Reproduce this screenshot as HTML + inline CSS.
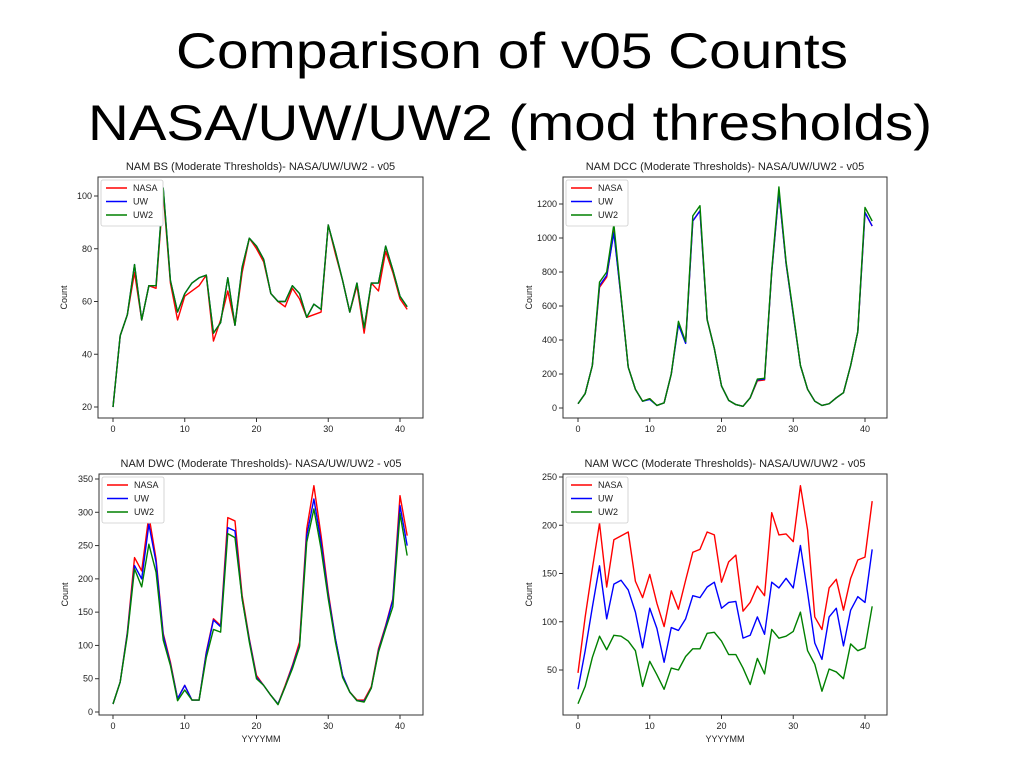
<!DOCTYPE html>
<html><head><meta charset="utf-8"><style>
body{margin:0;background:#fff;width:1024px;height:768px;overflow:hidden}
svg{display:block;font-family:"Liberation Sans","DejaVu Sans",sans-serif}
</style></head><body>
<svg id="s" width="1024" height="768">
<text x="512" y="68" text-anchor="middle" font-size="50" fill="#000" textLength="672" lengthAdjust="spacingAndGlyphs">Comparison of v05 Counts</text>
<text x="510" y="140" text-anchor="middle" font-size="50" fill="#000" textLength="844" lengthAdjust="spacingAndGlyphs">NASA/UW/UW2 (mod thresholds)</text>
</svg>
<script>
const xIdx = Array.from({length:42},(_,i)=>i);
const bsNasa=[20,47,55,71,53,66,65,101,67,53,62,64,66,70,45,53,64,51,71,84,80,75,63,60,58,65,61,54,55,56,89,78,68,56,66,48,67,64,79,71,61,57];
const bsUw=[20,47,55,74,53,66,66,103,68,56,63,67,69,70,48,52,69,51,73,84,81,76,63,60,60,66,63,54,59,57,89,79,68,56,67,50,67,67,81,72,62,58];
const bsUw2=[20,47,55,74,53,66,66,103,68,56,63,67,69,70,48,52,69,51,73,84,81,76,63,60,60,66,63,54,59,57,89,79,68,56,67,50,67,67,81,72,62,58];
const dccNasa=[25,85,250,710,770,1040,650,240,110,40,55,15,30,200,500,385,1100,1160,520,350,130,45,20,10,60,160,165,800,1270,850,550,250,110,40,15,25,60,90,250,450,1150,1070];
const dccUw=[25,85,250,720,780,1030,650,240,110,40,50,15,30,200,490,380,1100,1160,520,350,130,45,20,10,60,165,170,800,1270,850,550,250,110,40,15,25,60,90,250,450,1150,1070];
const dccUw2=[25,85,250,740,800,1080,660,240,110,40,55,15,30,200,510,390,1130,1190,520,350,130,45,20,10,60,170,175,810,1300,860,560,250,110,40,15,25,60,90,250,450,1180,1100];
const dwcNasa=[12,45,120,232,212,295,230,118,75,20,40,18,18,90,140,130,292,287,175,110,55,40,25,12,40,70,105,275,340,265,180,110,55,30,18,18,38,95,130,170,325,265];
const dwcUw=[12,45,118,220,200,282,225,115,72,20,40,18,18,88,138,128,277,272,170,108,52,40,25,12,38,68,100,265,320,255,175,110,55,30,17,16,36,92,128,168,310,250];
const dwcUw2=[12,45,115,215,188,252,210,108,70,17,33,18,18,82,124,120,268,262,170,105,50,40,25,11,38,65,98,255,305,245,170,105,52,30,17,15,36,90,125,158,298,235];
const wccNasa=[47,105,155,202,136,185,189,193,142,125,149,119,95,132,113,143,172,175,193,190,141,162,169,111,120,137,127,213,190,191,183,241,195,105,92,135,144,112,145,164,167,225];
const wccUw=[30,70,115,158,103,139,143,133,110,73,114,93,58,94,91,103,127,125,136,141,114,120,121,83,86,105,87,141,135,145,135,179,130,78,61,105,114,75,112,126,120,175];
const wccUw2=[15,33,63,85,71,86,85,80,70,33,59,45,30,52,50,64,72,72,88,89,80,66,66,52,35,62,46,92,83,85,90,110,70,56,28,51,48,41,77,70,73,116];
const xTicks=[0,10,20,30,40];
const bsTicks=[20,40,60,80,100];
const dccTicks=[0,200,400,600,800,1000,1200];
const dwcTicks=[0,50,100,150,200,250,300,350];
const wccTicks=[50,100,150,200,250];
const seriesNames=['NASA','UW','UW2'];
const colors=['#ff0000','#0000ff','#008000'];

const NS='http://www.w3.org/2000/svg';
const svg=document.getElementById('s');
function mk(t,a,p){const e=document.createElementNS(NS,t);for(const k in a)e.setAttribute(k,a[k]);(p||svg).appendChild(e);return e;}

function chart(cfg){
  const g=mk('g',{});
  
  
  const X=v=>cfg.x0+(v-0)*(cfg.x40-cfg.x0)/40;
  const Y=v=>cfg.yb+(v-cfg.vb)*(cfg.yt-cfg.yb)/(cfg.vt-cfg.vb);
  const t=mk('text',{x:(cfg.L+cfg.R)/2,y:cfg.T-7,'text-anchor':'middle','font-size':11,fill:'#222'},g);
  t.textContent=cfg.title;
  
  
  cfg.yticks.forEach(v=>{
    mk('line',{x1:cfg.L-4,x2:cfg.L,y1:Y(v),y2:Y(v),stroke:'#333'},g);
    const tt=mk('text',{x:cfg.L-6,y:Y(v)+3,'text-anchor':'end','font-size':9,fill:'#222'},g);
    tt.textContent=v;
    
    
  });
  xTicks.forEach(v=>{
    mk('line',{x1:X(v),x2:X(v),y1:cfg.B,y2:cfg.B+4,stroke:'#333'},g);
    const tt=mk('text',{x:X(v),y:cfg.B+14,'text-anchor':'middle','font-size':9,fill:'#222'},g);
    tt.textContent=v;
    
    
  });
  const yl=mk('text',{x:0,y:0,'text-anchor':'middle','font-size':9,fill:'#222',transform:`translate(${cfg.L-31},${(cfg.T+cfg.B)/2}) rotate(-90)`},g);
  yl.textContent='Count';
  
  
  if(cfg.xlabel){
    const xl=mk('text',{x:(cfg.L+cfg.R)/2,y:cfg.B+27,'text-anchor':'middle','font-size':9,fill:'#222'},g);
    xl.textContent='YYYYMM';
    
    
  }
  cfg.series.forEach((arr,i)=>{
    const p=mk('polyline',{points:arr.map((v,j)=>X(xIdx[j])+','+Y(v)).join(' '),fill:'none',stroke:colors[i],'stroke-width':1.4,'stroke-linejoin':'round'},g);
    
    
  });
  mk('rect',{x:cfg.L,y:cfg.T,width:cfg.R-cfg.L,height:cfg.B-cfg.T,fill:'none',stroke:'#333','stroke-width':1},g);
  const lg=mk('g',{},g);
  
  
  mk('rect',{x:cfg.L+3,y:cfg.T+3,width:62,height:46,fill:'#fff',stroke:'#ccc','stroke-width':0.8,rx:2},lg);
  seriesNames.forEach((n,i)=>{
    const yy=cfg.T+11+i*13.5;
    mk('line',{x1:cfg.L+8,x2:cfg.L+29,y1:yy,y2:yy,stroke:colors[i],'stroke-width':1.4},lg);
    const tt=mk('text',{x:cfg.L+35,y:yy+3,'font-size':9,fill:'#222'},lg);
    tt.textContent=n;
    
    
  });
}
chart({name:'bs-chart',title:'NAM BS (Moderate Thresholds)- NASA/UW/UW2 - v05',L:98,R:423,T:177,B:418,x0:113,x40:400,vb:20,yb:407,vt:100,yt:196,yticks:bsTicks,series:[bsNasa,bsUw,bsUw2]});
chart({name:'dcc-chart',title:'NAM DCC (Moderate Thresholds)- NASA/UW/UW2 - v05',L:563,R:887,T:177,B:418,x0:578,x40:865,vb:0,yb:408,vt:1200,yt:204,yticks:dccTicks,series:[dccNasa,dccUw,dccUw2]});
chart({name:'dwc-chart',title:'NAM DWC (Moderate Thresholds)- NASA/UW/UW2 - v05',L:99,R:423,T:474,B:715,x0:113,x40:400,vb:0,yb:712,vt:350,yt:479,yticks:dwcTicks,series:[dwcNasa,dwcUw,dwcUw2],xlabel:true});
chart({name:'wcc-chart',title:'NAM WCC (Moderate Thresholds)- NASA/UW/UW2 - v05',L:563,R:887,T:474,B:715,x0:578,x40:865,vb:50,yb:670,vt:250,yt:477,yticks:wccTicks,series:[wccNasa,wccUw,wccUw2],xlabel:true});
</script>
</body></html>
